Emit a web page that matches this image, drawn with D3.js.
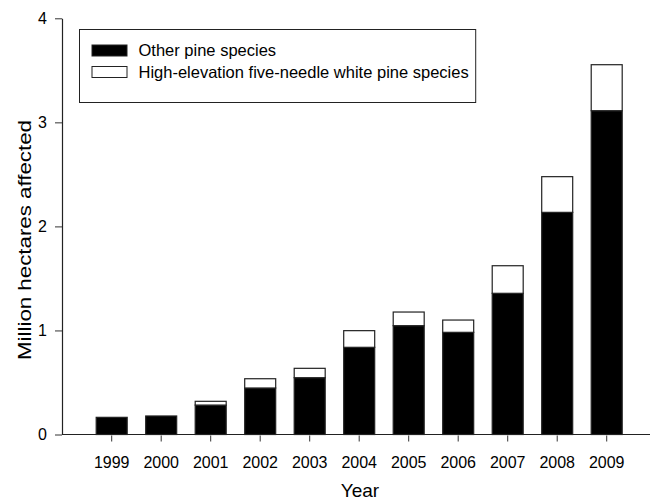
<!DOCTYPE html>
<html><head><meta charset="utf-8">
<script src="https://cdn.jsdelivr.net/npm/d3@7"></script>
<style>body{margin:0;background:#fff}svg{display:block}text{font-family:Arial,"Liberation Sans",sans-serif;fill:#000}</style>
</head><body>
<svg id="c" width="650" height="504"></svg>
<script>
const years = ["1999","2000","2001","2002","2003","2004","2005","2006","2007","2008","2009"];
const otherPine = [0.165,0.178,0.283,0.447,0.546,0.838,1.046,0.982,1.357,2.135,3.112];
const highElevation = [0,0,0.036,0.089,0.090,0.160,0.131,0.118,0.265,0.343,0.442];
const yTicks = [0,1,2,3,4];
const seriesNames = ["Other pine species","High-elevation five-needle white pine species"];

const svg = d3.select("#c");
const x = d3.scaleBand().domain(years).range([96.2, 622.2]).paddingInner(0.374).paddingOuter(0);
const y = d3.scaleLinear().domain([0,4]).range([434.5, 18.3]);

const rows = years.map((yr,i)=>({year:yr, other:otherPine[i], high:highElevation[i]}));
const stack = d3.stack().keys(["other","high"])(rows);
const fills = ["#000","#fff"];

stack.forEach((layer,li)=>{
  svg.append("g").selectAll("rect").data(layer.filter(d=>d[1]-d[0]>0)).join("rect")
    .attr("x", d=>x(d.data.year))
    .attr("width", x.bandwidth())
    .attr("y", d=>y(d[1]))
    .attr("height", d=>y(d[0])-y(d[1]))
    .attr("fill", fills[li])
    .attr("stroke", "#222")
    .attr("stroke-width", 1.2);
});

// axes
const xAxis = svg.append("g").attr("transform","translate(0,434.5)")
  .call(d3.axisBottom(x).tickSize(7).tickPadding(15).tickSizeOuter(0));
xAxis.select(".domain").remove();
xAxis.append("line").attr("x1",62).attr("x2",650).attr("y1",0).attr("y2",0).attr("stroke","#222").attr("stroke-width",1.2);
xAxis.selectAll(".tick line").attr("stroke","#333").attr("y1",1);
xAxis.selectAll(".tick text").style("font-size","16px");

const yAxis = svg.append("g").attr("transform","translate(62,0)")
  .call(d3.axisLeft(y).tickValues(yTicks).tickFormat(d3.format("d")).tickSize(7).tickPadding(8).tickSizeOuter(0));
yAxis.select(".domain").attr("stroke","#222").attr("stroke-width",1.2);
yAxis.selectAll(".tick line").attr("stroke","#333");
yAxis.selectAll(".tick text").style("font-size","16px");

svg.append("text").attr("x",360).attr("y",497).attr("text-anchor","middle").style("font-size","19px").text("Year");
svg.append("text").attr("transform","translate(31,240) rotate(-90)").attr("text-anchor","middle")
  .attr("textLength",240).attr("lengthAdjust","spacingAndGlyphs")
  .style("font-size","18px").text("Million hectares affected");

// legend
const lg = svg.append("g");
const box = lg.append("rect").attr("x",79.5).attr("y",29.5).attr("height",73).attr("fill","#fff").attr("stroke","#222").attr("stroke-width",1);
let maxW = 0;
seriesNames.forEach((n,i)=>{
  const yy = 45 + i*21.5;
  lg.append("rect").attr("x",92).attr("y",yy).attr("width",35).attr("height",11)
    .attr("fill",fills[i]).attr("stroke","#222").attr("stroke-width",1);
  const t = lg.append("text").attr("x",138.5).attr("y",yy+11).style("font-size","16.5px").text(n);
  maxW = Math.max(maxW, t.node().getComputedTextLength());
});
box.attr("width", 138.5 + maxW + 7 - 79.5);
</script>
</body></html>
